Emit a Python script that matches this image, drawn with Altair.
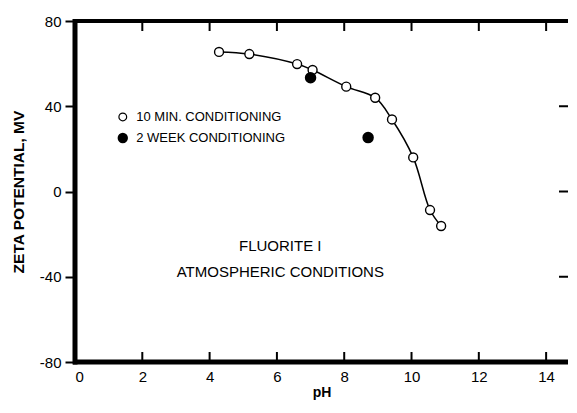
import altair as alt
import pandas as pd

# ---- data ----
ph_10min = [4.28, 5.18, 6.6, 7.06, 8.06, 8.92, 9.42, 10.05, 10.55, 10.88]
zeta_10min = [65.5, 64.5, 59.8, 57.0, 49.2, 44.0, 33.8, 16.0, -8.7, -16.2]
ph_2week = [7.0, 8.71]
zeta_2week = [53.4, 25.3]

x_ticks = [0, 2, 4, 6, 8, 10, 12, 14]
y_ticks = [-80, -40, 0, 40, 80]
right_ticks = [40, 0, -40]
legend_labels = ["10 MIN. CONDITIONING", "2 WEEK CONDITIONING"]
annotation = ["FLUORITE I", "ATMOSPHERIC CONDITIONS"]

W, H = 493, 341
FONT = "Liberation Sans"

xs = alt.Scale(domain=[0, 14.65], nice=False, zero=False)
ys = alt.Scale(domain=[-80, 80], nice=False, zero=False)

df_open = pd.DataFrame({"pH": ph_10min, "zeta": zeta_10min})
df_fill = pd.DataFrame({"pH": ph_2week, "zeta": zeta_2week})

xenc = alt.X("pH:Q", scale=xs, axis=alt.Axis(
    title="pH", values=x_ticks, ticks=False, domain=False, labelPadding=7,
    labelFont=FONT, labelFontSize=15, labelColor="black",
    titleFont=FONT, titleFontSize=14, titleFontWeight="bold", titleColor="black",
    titlePadding=1, grid=False))
yenc = alt.Y("zeta:Q", scale=ys, axis=alt.Axis(
    title="ZETA POTENTIAL, MV", values=y_ticks, tickSize=10, tickWidth=2,
    tickColor="black", domain=False, labelPadding=4,
    labelFont=FONT, labelFontSize=15, labelColor="black",
    labelExpr="datum.value < 0 ? '-' + abs(datum.value) : '' + datum.value",
    titleFont=FONT, titleFontSize=15.5, titleFontWeight="bold", titleColor="black",
    titlePadding=13, grid=False))

line = alt.Chart(df_open).mark_line(color="black", strokeWidth=1.5,
                                     interpolate="catmull-rom").encode(x=xenc, y=yenc)
open_pts = alt.Chart(df_open).mark_point(shape="circle", filled=True, fill="white",
                                         stroke="black", strokeWidth=1.4, size=80,
                                         opacity=1).encode(x="pH:Q", y="zeta:Q")
fill_pts = alt.Chart(df_fill).mark_point(shape="circle", filled=True, fill="black",
                                         stroke="black", size=90,
                                         opacity=1).encode(x="pH:Q", y="zeta:Q")

# legend drawn inside the plot
leg_df = pd.DataFrame({"x": [1.42, 1.42], "y": [35.0, 25.1], "tx": [1.82, 1.82],
                       "label": legend_labels})
leg_open = alt.Chart(leg_df.iloc[[0]]).mark_point(
    shape="circle", filled=True, fill="white", stroke="black", strokeWidth=1.2,
    size=60, opacity=1).encode(x="x:Q", y="y:Q")
leg_fill = alt.Chart(leg_df.iloc[[1]]).mark_point(
    shape="circle", filled=True, fill="black", stroke="black", size=70,
    opacity=1).encode(x="x:Q", y="y:Q")
leg_text = alt.Chart(leg_df).mark_text(
    align="left", baseline="middle", font=FONT, fontSize=13,
    color="black").encode(x="tx:Q", y="y:Q", text="label:N")

ann_df = pd.DataFrame({"x": [6.1, 6.1], "y": [-25.5, -37.6], "t": annotation})
ann = alt.Chart(ann_df).mark_text(
    align="center", baseline="middle", font=FONT, fontSize=15,
    color="black").encode(x="x:Q", y="y:Q", text="t:N")

# frame: borders and inward ticks
one = pd.DataFrame({"a": [0]})
top_border = alt.Chart(one).mark_rule(color="black", strokeWidth=4).encode(
    x=alt.value(-2), x2=alt.value(W), y=alt.value(0))
bottom_border = alt.Chart(one).mark_rule(color="black", strokeWidth=5).encode(
    x=alt.value(-2), x2=alt.value(W), y=alt.value(H))
left_border = alt.Chart(one).mark_rule(color="black", strokeWidth=5).encode(
    x=alt.value(0), y=alt.value(-2), y2=alt.value(H + 2.5))
xt_df = pd.DataFrame({"t": x_ticks[1:]})
bottom_ticks = alt.Chart(xt_df).mark_rule(color="black", strokeWidth=2).encode(
    x="t:Q", y=alt.value(H), y2=alt.value(H - 10))
top_ticks = alt.Chart(xt_df).mark_rule(color="black", strokeWidth=2).encode(
    x="t:Q", y=alt.value(0), y2=alt.value(10))
rt_df = pd.DataFrame({"t": right_ticks})
right_ticks_m = alt.Chart(rt_df).mark_rule(color="black", strokeWidth=2).encode(
    y="t:Q", x=alt.value(W), x2=alt.value(W - 9))

chart = alt.layer(
    line, open_pts, fill_pts, leg_open, leg_fill, leg_text, ann,
    top_border, bottom_border, left_border, bottom_ticks, top_ticks, right_ticks_m
).properties(
    width=W, height=H,
    autosize=alt.AutoSizeParams(type="none"),
    padding={"left": 67, "top": 13, "right": 1, "bottom": 43},
    background="white",
).configure_view(stroke=None)

chart.save("out.html", embed_options={"renderer": "svg", "actions": False})
